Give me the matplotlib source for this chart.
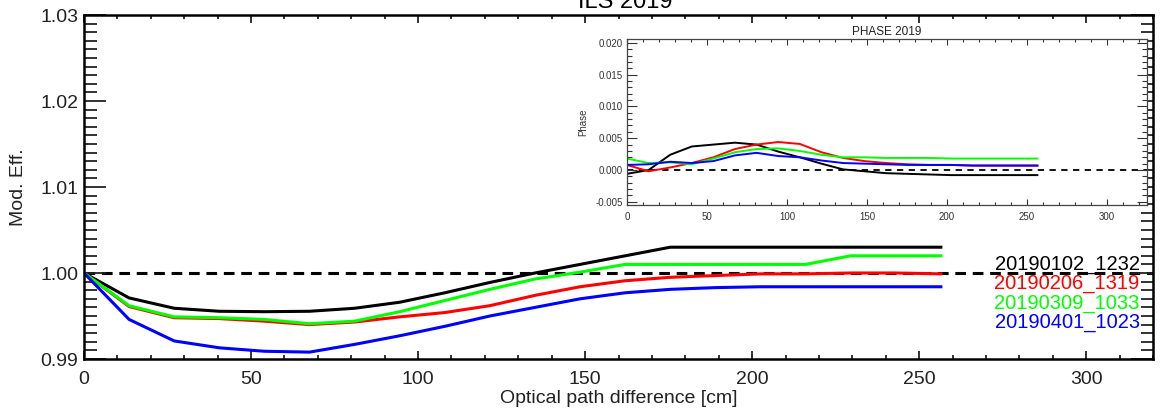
import numpy as np
import matplotlib
matplotlib.use("Agg")
import matplotlib.pyplot as plt
from matplotlib.ticker import MultipleLocator

plt.rcParams['font.family'] = ['Liberation Sans', 'DejaVu Sans']

# --- data ---
opd = [0, 13.5, 27, 40.5, 54, 67.5, 81, 94.5, 108, 121.5, 135, 148.5,
       162, 175.5, 189, 202.5, 216, 229.5, 243, 256.5]

labels = ['20190102_1232', '20190206_1319', '20190309_1033', '20190401_1023']
colors = ['black', '#ff0000', '#00ff00', '#0000ff']

me_black = [1.0, 0.9971, 0.9959, 0.99555, 0.9955, 0.99555, 0.9959, 0.9966, 0.9977, 0.9989,
            1.0000, 1.0010, 1.0020, 1.0030, 1.0030, 1.0030, 1.0030, 1.0030, 1.0030, 1.0030]
me_red = [1.0, 0.9961, 0.9948, 0.9947, 0.9944, 0.9940, 0.9943, 0.9949, 0.9954, 0.9962,
          0.9974, 0.9984, 0.9991, 0.9995, 0.9997, 0.9999, 0.9999, 1.0000, 1.0000, 0.9999]
me_green = [1.0, 0.9962, 0.9949, 0.9948, 0.9946, 0.9941, 0.9944, 0.9955, 0.9968, 0.9981,
            0.9993, 1.0001, 1.0010, 1.0010, 1.0010, 1.0010, 1.0010, 1.0020, 1.0020, 1.0020]
me_blue = [1.0, 0.9946, 0.9921, 0.9913, 0.9909, 0.9908, 0.9917, 0.9927, 0.9938, 0.9950,
           0.9960, 0.9970, 0.9977, 0.9981, 0.9983, 0.9984, 0.9984, 0.9984, 0.9984, 0.9984]

ph_black = [-0.0006, 0.0000, 0.0024, 0.0037, 0.0040, 0.0043, 0.0040, 0.0029, 0.0020, 0.0010,
            0.0001, -0.0002, -0.0005, -0.0006, -0.0007, -0.0008, -0.0008, -0.0008, -0.0008, -0.0008]
ph_red = [0.0008, -0.0002, 0.0004, 0.0011, 0.0020, 0.0033, 0.0040, 0.0044, 0.0041, 0.0028,
          0.0019, 0.0014, 0.0011, 0.0009, 0.0008, 0.0008, 0.0007, 0.0007, 0.0007, 0.0007]
ph_green = [0.0018, 0.0011, 0.0012, 0.0009, 0.0018, 0.0028, 0.0033, 0.0034, 0.0030, 0.0024,
            0.0020, 0.0020, 0.0019, 0.0019, 0.0019, 0.0018, 0.0018, 0.0018, 0.0018, 0.0018]
ph_blue = [0.0008, 0.0009, 0.0013, 0.0011, 0.0014, 0.0023, 0.0027, 0.0022, 0.0020, 0.0015,
           0.0011, 0.0010, 0.0009, 0.0008, 0.0008, 0.0008, 0.0007, 0.0007, 0.0007, 0.0007]

mod_eff = [me_black, me_red, me_green, me_blue]
phase = [ph_black, ph_red, ph_green, ph_blue]

fig = plt.figure(figsize=(11.65, 4.09), dpi=100)

# --- main plot: modulation efficiency ---
ax = fig.add_axes([84 / 1165, 1 - 359 / 409, (1153 - 84) / 1165, (359 - 15) / 409])
ax.axhline(1.0, color='black', lw=2.2, dashes=(3.5, 2.2), zorder=1)
for y, c in zip(mod_eff, colors):
    ax.plot(opd, y, color=c, lw=2.2, zorder=2)

ax.set_xlim(0, 320)
ax.set_ylim(0.99, 1.03)
ax.xaxis.set_major_locator(MultipleLocator(50))
ax.xaxis.set_minor_locator(MultipleLocator(10))
ax.yaxis.set_major_locator(MultipleLocator(0.01))
ax.yaxis.set_minor_locator(MultipleLocator(0.001))
ax.yaxis.set_major_formatter(plt.FuncFormatter(lambda v, p: f"{v:.2f}"))
ax.tick_params(which='both', direction='in', top=True, right=True, labelsize=14, colors='#222222')
ax.tick_params(axis='y', which='major', length=16, width=1.3, pad=4)
ax.tick_params(axis='y', which='minor', length=9, width=1.3)
ax.tick_params(axis='x', which='major', length=6, width=1.3, pad=9)
ax.tick_params(axis='x', which='minor', length=3, width=1.3)
for s in ax.spines.values():
    s.set_linewidth(1.8)
ax.set_xlabel('Optical path difference [cm]', fontsize=14, labelpad=1, color='#222222')
ax.set_ylabel('Mod. Eff.', fontsize=14, labelpad=10, color='#222222')

# legend as coloured text, right aligned
for i, (lab, c) in enumerate(zip(labels, colors)):
    ax.text(316, 1.0010 - i * 0.00225, lab, color=c, fontsize=14.5,
            ha='right', va='center')

fig.text(625 / 1165, 1 - 8 / 409, 'ILS 2019', fontsize=17, ha='center', va='baseline')

# --- inset: phase ---
axi = fig.add_axes([627 / 1165, 1 - 205 / 409, (1147 - 627) / 1165, (205 - 39) / 409])
axi.axhline(0.0, color='black', lw=1.3, dashes=(3.5, 3), zorder=1)
for y, c in zip(phase, colors):
    axi.plot(opd, y, color=c, lw=1.4, zorder=2)
axi.set_xlim(0, 325)
axi.set_ylim(-0.0055, 0.0206)
axi.xaxis.set_major_locator(MultipleLocator(50))
axi.xaxis.set_minor_locator(MultipleLocator(10))
axi.yaxis.set_major_locator(MultipleLocator(0.005))
axi.yaxis.set_minor_locator(MultipleLocator(0.001))
axi.yaxis.set_major_formatter(plt.FuncFormatter(lambda v, p: f"{v:.3f}"))
axi.tick_params(which='both', direction='in', top=True, right=True, labelsize=7,
                colors='#333333', width=0.8)
axi.tick_params(axis='y', which='major', length=7, pad=3)
axi.tick_params(axis='y', which='minor', length=3.5)
axi.tick_params(axis='x', which='major', length=4, pad=5)
axi.tick_params(axis='x', which='minor', length=2)
for s in axi.spines.values():
    s.set_linewidth(0.9)
    s.set_color('#444444')
axi.set_ylabel('Phase', fontsize=7, labelpad=5, color='#333333')
axi.set_title('PHASE 2019', fontsize=8.5, pad=3, color='#222222')

fig.savefig('out.png', dpi=100)
